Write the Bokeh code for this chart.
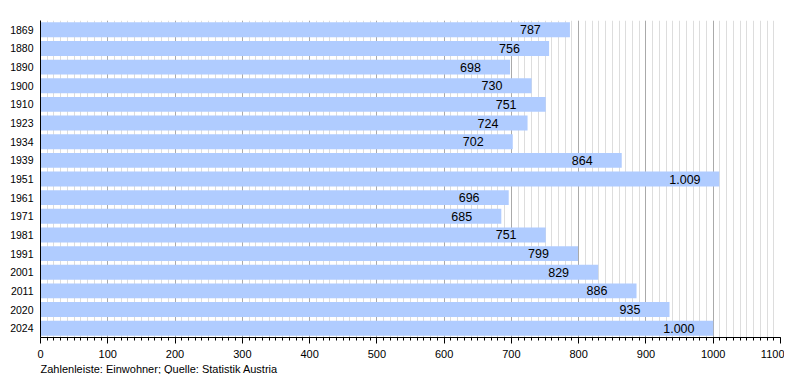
from bokeh.plotting import figure
from bokeh.models import ColumnDataSource, FactorRange, Range1d, SingleIntervalTicker, Title
from bokeh.core.properties import value
from bokeh.embed import file_html
from bokeh.resources import INLINE

years = ["1869", "1880", "1890", "1900", "1910", "1923", "1934", "1939", "1951",
         "1961", "1971", "1981", "1991", "2001", "2011", "2020", "2024"]
population = [787, 756, 698, 730, 751, 724, 702, 864, 1009,
              696, 685, 751, 799, 829, 886, 935, 1000]
labels = ["{:,}".format(v).replace(",", ".") for v in population]

FONT = "Liberation Sans"
BAR_COLOR = "#b0ccff"

source = ColumnDataSource(dict(year=years, pop=population, label=labels))

p = figure(
    y_range=FactorRange(factors=list(reversed(years)), range_padding=0),
    x_range=Range1d(0, 1100),
    width=784, height=374,
    min_border_left=40, min_border_right=4, min_border_top=20, min_border_bottom=0,
    output_backend="svg", toolbar_location=None,
)
p.outline_line_color = None
p.background_fill_color = "white"

p.hbar(y="year", right="pop", left=0, height=0.8, source=source,
       fill_color=BAR_COLOR, line_color=None)

p.text(x="pop", y="year", text="label", source=source, x_offset=-50,
       text_align="left", text_baseline="middle",
       text_font=value(FONT), text_font_size="12.5px", text_color="black")

# x axis
xa = p.xaxis[0]
xa.ticker = SingleIntervalTicker(interval=100, num_minor_ticks=10)
xa.axis_line_color = "black"
xa.major_tick_line_color = "black"
xa.minor_tick_line_color = "black"
xa.major_tick_out = 6
xa.major_tick_in = 0
xa.minor_tick_out = 3
xa.minor_tick_in = 0
xa.major_label_text_font = FONT
xa.major_label_text_font_size = "11px"
xa.major_label_text_color = "black"
xa.major_label_standoff = 6

# y axis
ya = p.yaxis[0]
ya.axis_line_color = "black"
ya.major_tick_line_color = None
ya.minor_tick_line_color = None
ya.major_tick_out = 0
ya.major_tick_in = 0
ya.major_label_standoff = 7
ya.major_label_text_font = FONT
ya.major_label_text_font_size = "10.5px"
ya.major_label_text_color = "black"

# grids
p.ygrid.grid_line_color = None
p.xgrid.grid_line_color = "#aaaaaa"
p.xgrid.grid_line_width = 1
p.xgrid.minor_grid_line_color = "#dddddd"
p.xgrid.minor_grid_line_width = 1

footer = Title(text="Zahlenleiste: Einwohner; Quelle: Statistik Austria",
               align="left", text_font=FONT, text_font_size="11px",
               text_font_style="normal", text_color="black", standoff=0)
p.add_layout(footer, "below")

open("out.html", "w").write(file_html(p, INLINE))
